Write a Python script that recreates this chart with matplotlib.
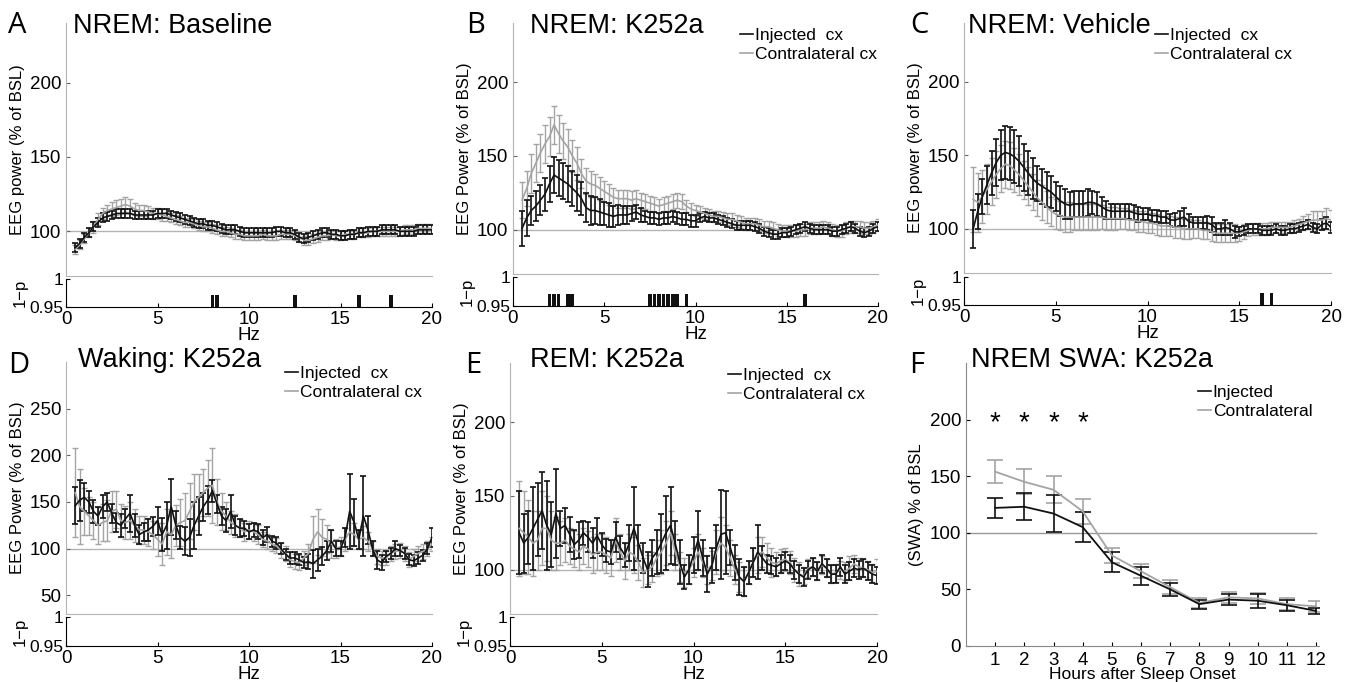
import numpy as np
import matplotlib
matplotlib.use('Agg')
import matplotlib.pyplot as plt
from matplotlib.lines import Line2D

plt.rcParams['font.family'] = ['Liberation Sans', 'DejaVu Sans']

# frequency bins (0.25 Hz, 0.5-20 Hz)
freqs = np.arange(0.5, 20.01, 0.25)

# ---- A: NREM baseline ----
a_inj = [89, 92, 96, 99, 103, 106, 109, 110, 111, 112, 112, 112, 112, 111, 111, 111,
         111, 111, 112, 112, 112, 111, 110, 109, 108, 107, 106, 105, 105, 104, 104, 103,
         102, 101, 101, 101, 100, 99, 99, 99, 99, 99, 99, 99, 100, 100, 99, 99,
         98, 96, 95, 96, 97, 98, 99, 99, 98, 98, 97, 97, 98, 98, 99, 99,
         100, 100, 100, 101, 101, 101, 101, 100, 100, 100, 100, 101, 101, 101, 101]
a_inj_err = [3, 3, 3, 3, 3, 3, 3, 3, 3, 3, 3, 3, 3, 3, 3, 3,
             3, 3, 3, 3, 3, 3, 3, 3, 3, 3, 3, 3, 3, 3, 3, 3,
             3, 3, 3, 3, 3, 3, 3, 3, 3, 3, 3, 3, 3, 3, 3, 3,
             3, 3, 3, 3, 3, 3, 3, 3, 3, 3, 3, 3, 3, 3, 3, 3,
             3, 3, 3, 3, 3, 3, 3, 3, 3, 3, 3, 3, 3, 3, 3]
a_con = [88, 91, 95, 99, 103, 108, 112, 114, 115, 116, 117, 118, 117, 115, 114, 114,
         113, 112, 112, 111, 110, 109, 108, 107, 106, 106, 105, 104, 103, 103, 102, 101,
         100, 100, 99, 98, 98, 97, 97, 97, 97, 98, 97, 97, 97, 98, 98, 98,
         97, 96, 94, 94, 95, 96, 97, 97, 98, 97, 97, 98, 98, 98, 99, 99,
         99, 100, 100, 100, 100, 100, 100, 100, 101, 101, 101, 102, 102, 102, 102]
a_con_err = [3, 3, 3, 3, 4, 4, 4, 4, 5, 5, 5, 5, 5, 4, 4, 4,
             4, 4, 4, 4, 3, 3, 3, 3, 3, 3, 3, 3, 3, 3, 3, 3,
             3, 3, 3, 3, 3, 3, 3, 3, 3, 3, 3, 3, 3, 3, 3, 3,
             3, 3, 3, 3, 3, 3, 3, 3, 3, 3, 3, 3, 3, 3, 3, 3,
             3, 3, 3, 3, 3, 3, 3, 3, 3, 3, 3, 3, 3, 3, 3]
a_sig = [8.0, 8.25, 12.5, 16.0, 17.75]

# ---- B: NREM K252a ----
b_inj = [101, 108, 113, 116, 120, 124, 131, 137, 135, 133, 131, 128, 125, 121, 115, 113,
         113, 112, 111, 110, 109, 110, 110, 110, 111, 112, 110, 109, 108, 108, 107, 108,
         108, 109, 108, 107, 107, 106, 106, 108, 109, 108, 108, 107, 106, 105, 104, 103,
         103, 103, 103, 102, 101, 99, 98, 97, 97, 98, 98, 99, 100, 101, 102, 101,
         100, 100, 100, 100, 99, 99, 100, 101, 102, 101, 99, 98, 99, 101, 102]
b_inj_err = [12, 12, 10, 10, 10, 11, 12, 12, 12, 12, 12, 12, 12, 11, 10, 10,
             9, 9, 8, 8, 7, 7, 6, 6, 5, 5, 5, 4, 4, 4, 4, 4,
             4, 4, 4, 4, 4, 4, 4, 3, 3, 3, 3, 3, 3, 3, 3, 3,
             3, 3, 3, 3, 3, 3, 3, 3, 3, 3, 3, 3, 3, 3, 3, 3,
             3, 3, 3, 3, 3, 3, 3, 3, 3, 3, 3, 3, 3, 3, 3]
b_con = [120, 128, 138, 145, 152, 158, 163, 171, 165, 160, 156, 150, 145, 138, 133, 131,
         130, 128, 126, 124, 122, 121, 121, 121, 120, 121, 120, 119, 118, 117, 116, 117,
         118, 119, 120, 119, 116, 114, 113, 112, 111, 110, 109, 109, 108, 107, 107, 106,
         105, 104, 104, 104, 103, 102, 102, 101, 100, 99, 99, 99, 99, 100, 100, 101,
         101, 101, 102, 101, 100, 99, 99, 101, 102, 102, 102, 101, 101, 102, 103]
b_con_err = [12, 12, 13, 13, 13, 13, 13, 13, 13, 12, 12, 11, 11, 10, 9, 9,
             8, 8, 7, 7, 6, 6, 6, 6, 6, 6, 5, 5, 5, 5, 5, 5,
             5, 5, 5, 5, 4, 4, 4, 4, 4, 4, 4, 4, 4, 4, 4, 4,
             4, 4, 4, 4, 4, 4, 4, 4, 4, 4, 4, 4, 4, 4, 4, 4,
             4, 4, 4, 4, 4, 4, 4, 4, 4, 4, 4, 4, 4, 4, 4]
b_sig = [2.0, 2.25, 2.5, 3.0, 3.25, 7.5, 7.75, 8.0, 8.25, 8.5, 8.75, 9.0, 9.5, 16.0]

# ---- C: NREM vehicle ----
c_inj = [100, 112, 122, 130, 138, 145, 150, 152, 151, 149, 146, 142, 138, 134, 131, 129,
         127, 125, 122, 119, 117, 116, 117, 117, 117, 118, 118, 117, 115, 113, 112, 112,
         112, 112, 112, 111, 110, 110, 110, 109, 109, 108, 108, 106, 106, 107, 108, 105,
         104, 104, 104, 104, 103, 100, 100, 101, 100, 98, 98, 99, 100, 100, 100, 99,
         99, 99, 100, 99, 99, 100, 100, 101, 102, 103, 101, 100, 103, 104, 101]
c_inj_err = [13, 12, 12, 13, 15, 16, 17, 18, 18, 18, 17, 16, 15, 14, 12, 12,
             12, 11, 10, 10, 10, 9, 9, 9, 9, 9, 8, 8, 7, 6, 5, 5,
             5, 5, 5, 5, 5, 4, 4, 4, 4, 4, 4, 4, 5, 5, 6, 5,
             4, 4, 4, 5, 5, 4, 4, 5, 4, 4, 3, 3, 3, 3, 3, 3,
             3, 3, 3, 3, 3, 3, 3, 3, 3, 3, 3, 3, 4, 4, 4]
c_con = [120, 118, 122, 127, 132, 137, 141, 144, 143, 140, 137, 133, 129, 125, 121, 118,
         115, 112, 110, 109, 108, 108, 108, 108, 108, 108, 108, 108, 108, 107, 107, 107,
         107, 107, 106, 106, 105, 105, 104, 104, 103, 102, 102, 102, 101, 101, 100, 100,
         100, 100, 99, 99, 98, 97, 97, 97, 97, 97, 97, 98, 99, 100, 100, 100,
         100, 101, 101, 101, 101, 101, 102, 103, 104, 105, 106, 106, 106, 107, 106]
c_con_err = [22, 20, 18, 17, 16, 16, 16, 16, 16, 15, 14, 13, 13, 12, 12, 12,
             11, 10, 10, 10, 10, 10, 9, 9, 9, 9, 9, 9, 8, 8, 8, 8,
             7, 7, 7, 7, 7, 7, 7, 7, 7, 7, 7, 7, 7, 7, 7, 7,
             6, 6, 6, 6, 6, 6, 6, 6, 6, 6, 5, 5, 4, 4, 4, 4,
             4, 4, 4, 4, 4, 4, 4, 4, 5, 5, 6, 6, 6, 7, 7]
c_sig = [16.25, 16.75]

# ---- D: Waking K252a ----
d_inj = [146, 152, 155, 150, 140, 135, 145, 150, 138, 128, 125, 132, 138, 125, 115, 118,
         120, 124, 130, 115, 125, 145, 125, 112, 108, 112, 125, 135, 145, 152, 162, 148,
         135, 130, 140, 125, 122, 122, 118, 120, 118, 112, 115, 108, 106, 100, 94, 90,
         90, 88, 85, 86, 84, 88, 92, 98, 108, 100, 100, 112, 140, 128, 110, 135,
         120, 100, 88, 85, 92, 95, 100, 98, 95, 88, 87, 90, 93, 100, 112]
d_inj_err = [20, 22, 15, 12, 12, 10, 12, 10, 10, 10, 12, 10, 20, 12, 10, 10,
             12, 10, 15, 18, 25, 30, 15, 12, 15, 20, 25, 20, 15, 15, 12, 10,
             10, 12, 18, 10, 10, 8, 8, 8, 8, 8, 8, 6, 6, 6, 6, 6,
             6, 6, 6, 8, 15, 12, 10, 10, 12, 8, 8, 10, 40, 25, 10, 43,
             15, 8, 10, 8, 6, 6, 8, 6, 6, 6, 6, 6, 6, 6, 10]
d_con = [160, 145, 140, 135, 130, 125, 128, 130, 140, 142, 130, 128, 130, 125, 120, 120,
         118, 115, 110, 105, 118, 115, 125, 128, 130, 140, 150, 155, 160, 165, 168, 150,
         140, 135, 128, 125, 122, 118, 120, 118, 115, 110, 108, 105, 103, 98, 95, 88,
         86, 85, 90, 95, 110, 118, 112, 110, 105, 100, 102, 110, 118, 115, 110, 112,
         108, 100, 92, 90, 90, 95, 97, 98, 95, 88, 92, 95, 97, 100, 105]
d_con_err = [48, 40, 25, 20, 20, 20, 20, 22, 22, 20, 18, 18, 20, 18, 15, 15,
             15, 15, 18, 22, 25, 25, 22, 25, 30, 30, 30, 25, 25, 30, 40, 25,
             20, 15, 12, 12, 10, 10, 10, 10, 10, 8, 8, 8, 8, 8, 8, 8,
             8, 8, 8, 10, 25, 25, 20, 15, 15, 10, 10, 12, 15, 12, 10, 12,
             10, 8, 8, 8, 8, 8, 8, 8, 8, 8, 8, 8, 8, 8, 8]

# ---- E: REM K252a ----
e_inj = [125, 118, 122, 128, 134, 140, 130, 124, 138, 128, 130, 124, 117, 120, 125, 122,
         118, 123, 117, 113, 112, 122, 115, 110, 118, 128, 118, 108, 100, 108, 112, 118,
         125, 130, 118, 105, 95, 100, 110, 120, 108, 97, 103, 115, 124, 125, 115, 105,
         95, 92, 98, 105, 112, 108, 104, 103, 102, 104, 106, 104, 100, 97, 95, 100,
         102, 99, 104, 101, 97, 97, 102, 97, 99, 101, 100, 101, 99, 97, 96]
e_inj_err = [28, 20, 18, 28, 25, 26, 30, 22, 30, 12, 12, 12, 10, 12, 8, 10,
             10, 12, 8, 8, 8, 10, 8, 8, 12, 28, 12, 10, 12, 12, 15, 20,
             25, 26, 15, 15, 8, 10, 12, 20, 12, 12, 12, 15, 30, 28, 12, 12,
             12, 10, 8, 10, 18, 8, 6, 6, 6, 6, 6, 6, 6, 6, 6, 6,
             6, 6, 6, 6, 6, 6, 6, 6, 6, 6, 6, 6, 6, 6, 6]
e_con = [128, 125, 122, 118, 120, 128, 128, 120, 118, 118, 120, 116, 114, 112, 116, 114,
         110, 112, 112, 110, 108, 120, 112, 106, 112, 110, 105, 98, 100, 102, 108, 112,
         118, 125, 112, 102, 98, 100, 105, 112, 105, 100, 103, 112, 118, 115, 108, 100,
         95, 92, 98, 105, 110, 112, 108, 105, 104, 106, 107, 105, 100, 97, 96, 101,
         102, 99, 103, 101, 97, 98, 100, 99, 101, 104, 102, 101, 100, 98, 99]
e_con_err = [32, 28, 25, 22, 20, 25, 22, 20, 18, 15, 15, 12, 12, 12, 12, 12,
             12, 12, 12, 12, 12, 15, 12, 12, 12, 12, 12, 10, 10, 10, 12, 15,
             15, 15, 12, 10, 10, 10, 10, 12, 10, 10, 10, 15, 18, 15, 12, 10,
             10, 10, 8, 10, 12, 10, 10, 10, 8, 8, 8, 8, 8, 8, 6, 6,
             6, 6, 6, 6, 6, 6, 6, 6, 8, 6, 6, 6, 6, 6, 8]

# ---- F: NREM SWA over time ----
hours = [1, 2, 3, 4, 5, 6, 7, 8, 9, 10, 11, 12]
f_inj = [122, 123, 117, 105, 74, 62, 50, 37, 41, 40, 36, 31]
f_inj_err = [9, 12, 16, 13, 9, 8, 6, 4, 5, 6, 5, 3]
f_con = [154, 145, 138, 119, 80, 66, 52, 38, 43, 42, 37, 35]
f_con_err = [10, 11, 12, 11, 7, 6, 6, 4, 5, 5, 5, 5]
star_hours = [1, 2, 3, 4]

BLACK = '#111111'
GRAY = '#a4a4a4'
REF = '#b4b4b4'
TICK_FS = 13.5
LAB_FS = 12
W, H = 1353, 682
fig = plt.figure(figsize=(W / 100, H / 100), dpi=100)


def rect(l, t, r, b):
    return [l / W, 1 - b / H, (r - l) / W, (b - t) / H]


def legend(ax, x, y, labels):
    handles = [Line2D([], [], color=BLACK, lw=1.2), Line2D([], [], color=GRAY, lw=1.2)]
    ax.legend(handles, labels, loc='upper left', bbox_to_anchor=(x / W, 1 - y / H),
              bbox_transform=fig.transFigure, frameon=False, fontsize=12.5,
              handlelength=0.75, handletextpad=0.1, labelspacing=0.22, borderpad=0,
              borderaxespad=0)


def spectrum(main, pbox, inj, inj_err, con, con_err, ylim, yticks, ylabel, sig, xpad, hzpad):
    ax = fig.add_axes(rect(*main))
    ax.errorbar(freqs, con, yerr=con_err, color=GRAY, lw=1.2, elinewidth=1,
                capsize=2.5, capthick=1)
    ax.errorbar(freqs, inj, yerr=inj_err, color=BLACK, lw=1.2, elinewidth=1.2,
                capsize=2.5, capthick=1.2)
    ax.axhline(100, color=REF, lw=1, zorder=0)
    ax.set_xlim(0, 20)
    ax.set_ylim(*ylim)
    ax.set_yticks(yticks)
    ax.set_xticks([])
    for s in ['top', 'right']:
        ax.spines[s].set_visible(False)
    ax.spines['left'].set_color(REF)
    ax.spines['bottom'].set_color(REF)
    ax.tick_params(axis='y', direction='in', length=3, labelsize=TICK_FS, color='#666666')
    ax.set_ylabel(ylabel, fontsize=LAB_FS, labelpad=3)

    pa = fig.add_axes(rect(*pbox))
    pa.bar(sig, [0.971] * len(sig), width=0.2, bottom=0, color=BLACK)
    pa.set_xlim(0, 20)
    pa.set_ylim(0.95, 1)
    pa.set_xticks([0, 5, 10, 15, 20])
    pa.set_yticks([0.95, 1])
    pa.set_yticklabels(['0.95', '1'])
    for s in ['top', 'right']:
        pa.spines[s].set_visible(False)
    pa.tick_params(direction='in', length=3, labelsize=TICK_FS)
    pa.tick_params(axis='y', labelsize=12.5, pad=2)
    pa.tick_params(axis='x', pad=xpad)
    pa.set_ylabel('1\u2212p', fontsize=LAB_FS, labelpad=1)
    pa.set_xlabel('Hz', fontsize=TICK_FS, labelpad=hzpad)
    return ax


labels = ['Injected  cx', 'Contralateral cx']

axA = spectrum((66, 23, 432, 276), (66, 279, 432, 307), a_inj, a_inj_err, a_con, a_con_err,
               (70, 240), [100, 150, 200], 'EEG power (% of BSL)', a_sig, 3, -1)
axB = spectrum((513, 23, 878, 274), (513, 277, 878, 306), b_inj, b_inj_err, b_con, b_con_err,
               (70, 240), [100, 150, 200], 'EEG Power (% of BSL)', b_sig, 3, -1)
legend(axB, 740, 28, labels)
axC = spectrum((964, 23, 1331, 273), (964, 277, 1331, 305), c_inj, c_inj_err, c_con, c_con_err,
               (70, 240), [100, 150, 200], 'EEG power (% of BSL)', c_sig, 3, -1)
legend(axC, 1155, 28, labels)
axD = spectrum((66, 362, 432, 614), (66, 617, 432, 646), d_inj, d_inj_err, d_con, d_con_err,
               (30, 300), [50, 100, 150, 200, 250], 'EEG Power (% of BSL)', [], 3, -1)
legend(axD, 285, 366, labels)
axE = spectrum((510, 363, 877, 614), (510, 617, 877, 646), e_inj, e_inj_err, e_con, e_con_err,
               (70, 240), [100, 150, 200], 'EEG Power (% of BSL)', [], 3, -1)
legend(axE, 728, 368, labels)

# panel F
axF = fig.add_axes(rect(966, 363, 1319, 646))
axF.errorbar(hours, f_con, yerr=f_con_err, color=GRAY, lw=1.3, elinewidth=1.2,
             capsize=6, capthick=1.2)
axF.errorbar(hours, f_inj, yerr=f_inj_err, color=BLACK, lw=1.3, elinewidth=1.2,
             capsize=6, capthick=1.2)
axF.plot([0, 12], [100, 100], color='#999999', lw=1, zorder=0)
for h in star_hours:
    axF.text(h, 197, '*', ha='center', va='center', fontsize=20)
axF.set_xlim(0, 12.1)
axF.set_ylim(0, 250)
axF.set_xticks(hours)
axF.set_yticks([0, 50, 100, 150, 200])
for s in ['top', 'right']:
    axF.spines[s].set_visible(False)
axF.spines['left'].set_color('#888888')
axF.spines['bottom'].set_color('#888888')
axF.tick_params(direction='in', length=3, labelsize=TICK_FS)
axF.tick_params(axis='x', pad=4)
axF.set_ylabel('(SWA) % of BSL', fontsize=LAB_FS)
axF.set_xlabel('Hours after Sleep Onset', fontsize=12.5, labelpad=-1)
handles = [Line2D([], [], color=BLACK, lw=1.2), Line2D([], [], color=GRAY, lw=1.2)]
axF.legend(handles, ['Injected', 'Contralateral'], loc='upper left',
           bbox_to_anchor=(1198 / W, 1 - 385 / H), bbox_transform=fig.transFigure,
           frameon=False, fontsize=12.5, handlelength=0.75, handletextpad=0.1,
           labelspacing=0.22, borderpad=0, borderaxespad=0)

# panel letters and titles
letters = [('A', 8, 33), ('B', 466, 33), ('C', 910, 33),
           ('D', 8, 373), ('E', 465, 373), ('F', 909, 373)]
titles = [('NREM: Baseline', 73, 33), ('NREM: K252a', 530, 33), ('NREM: Vehicle', 968, 33),
          ('Waking: K252a', 78, 367), ('REM: K252a', 530, 367), ('NREM SWA: K252a', 971, 367)]
for s, x, y in letters:
    fig.text(x / W, 1 - y / H, s, fontsize=21, va='baseline', family=['Open Sans', 'DejaVu Sans'])
for s, x, y in titles:
    fig.text(x / W, 1 - y / H, s, fontsize=19.5, va='baseline')

fig.savefig('out.png', dpi=100)
